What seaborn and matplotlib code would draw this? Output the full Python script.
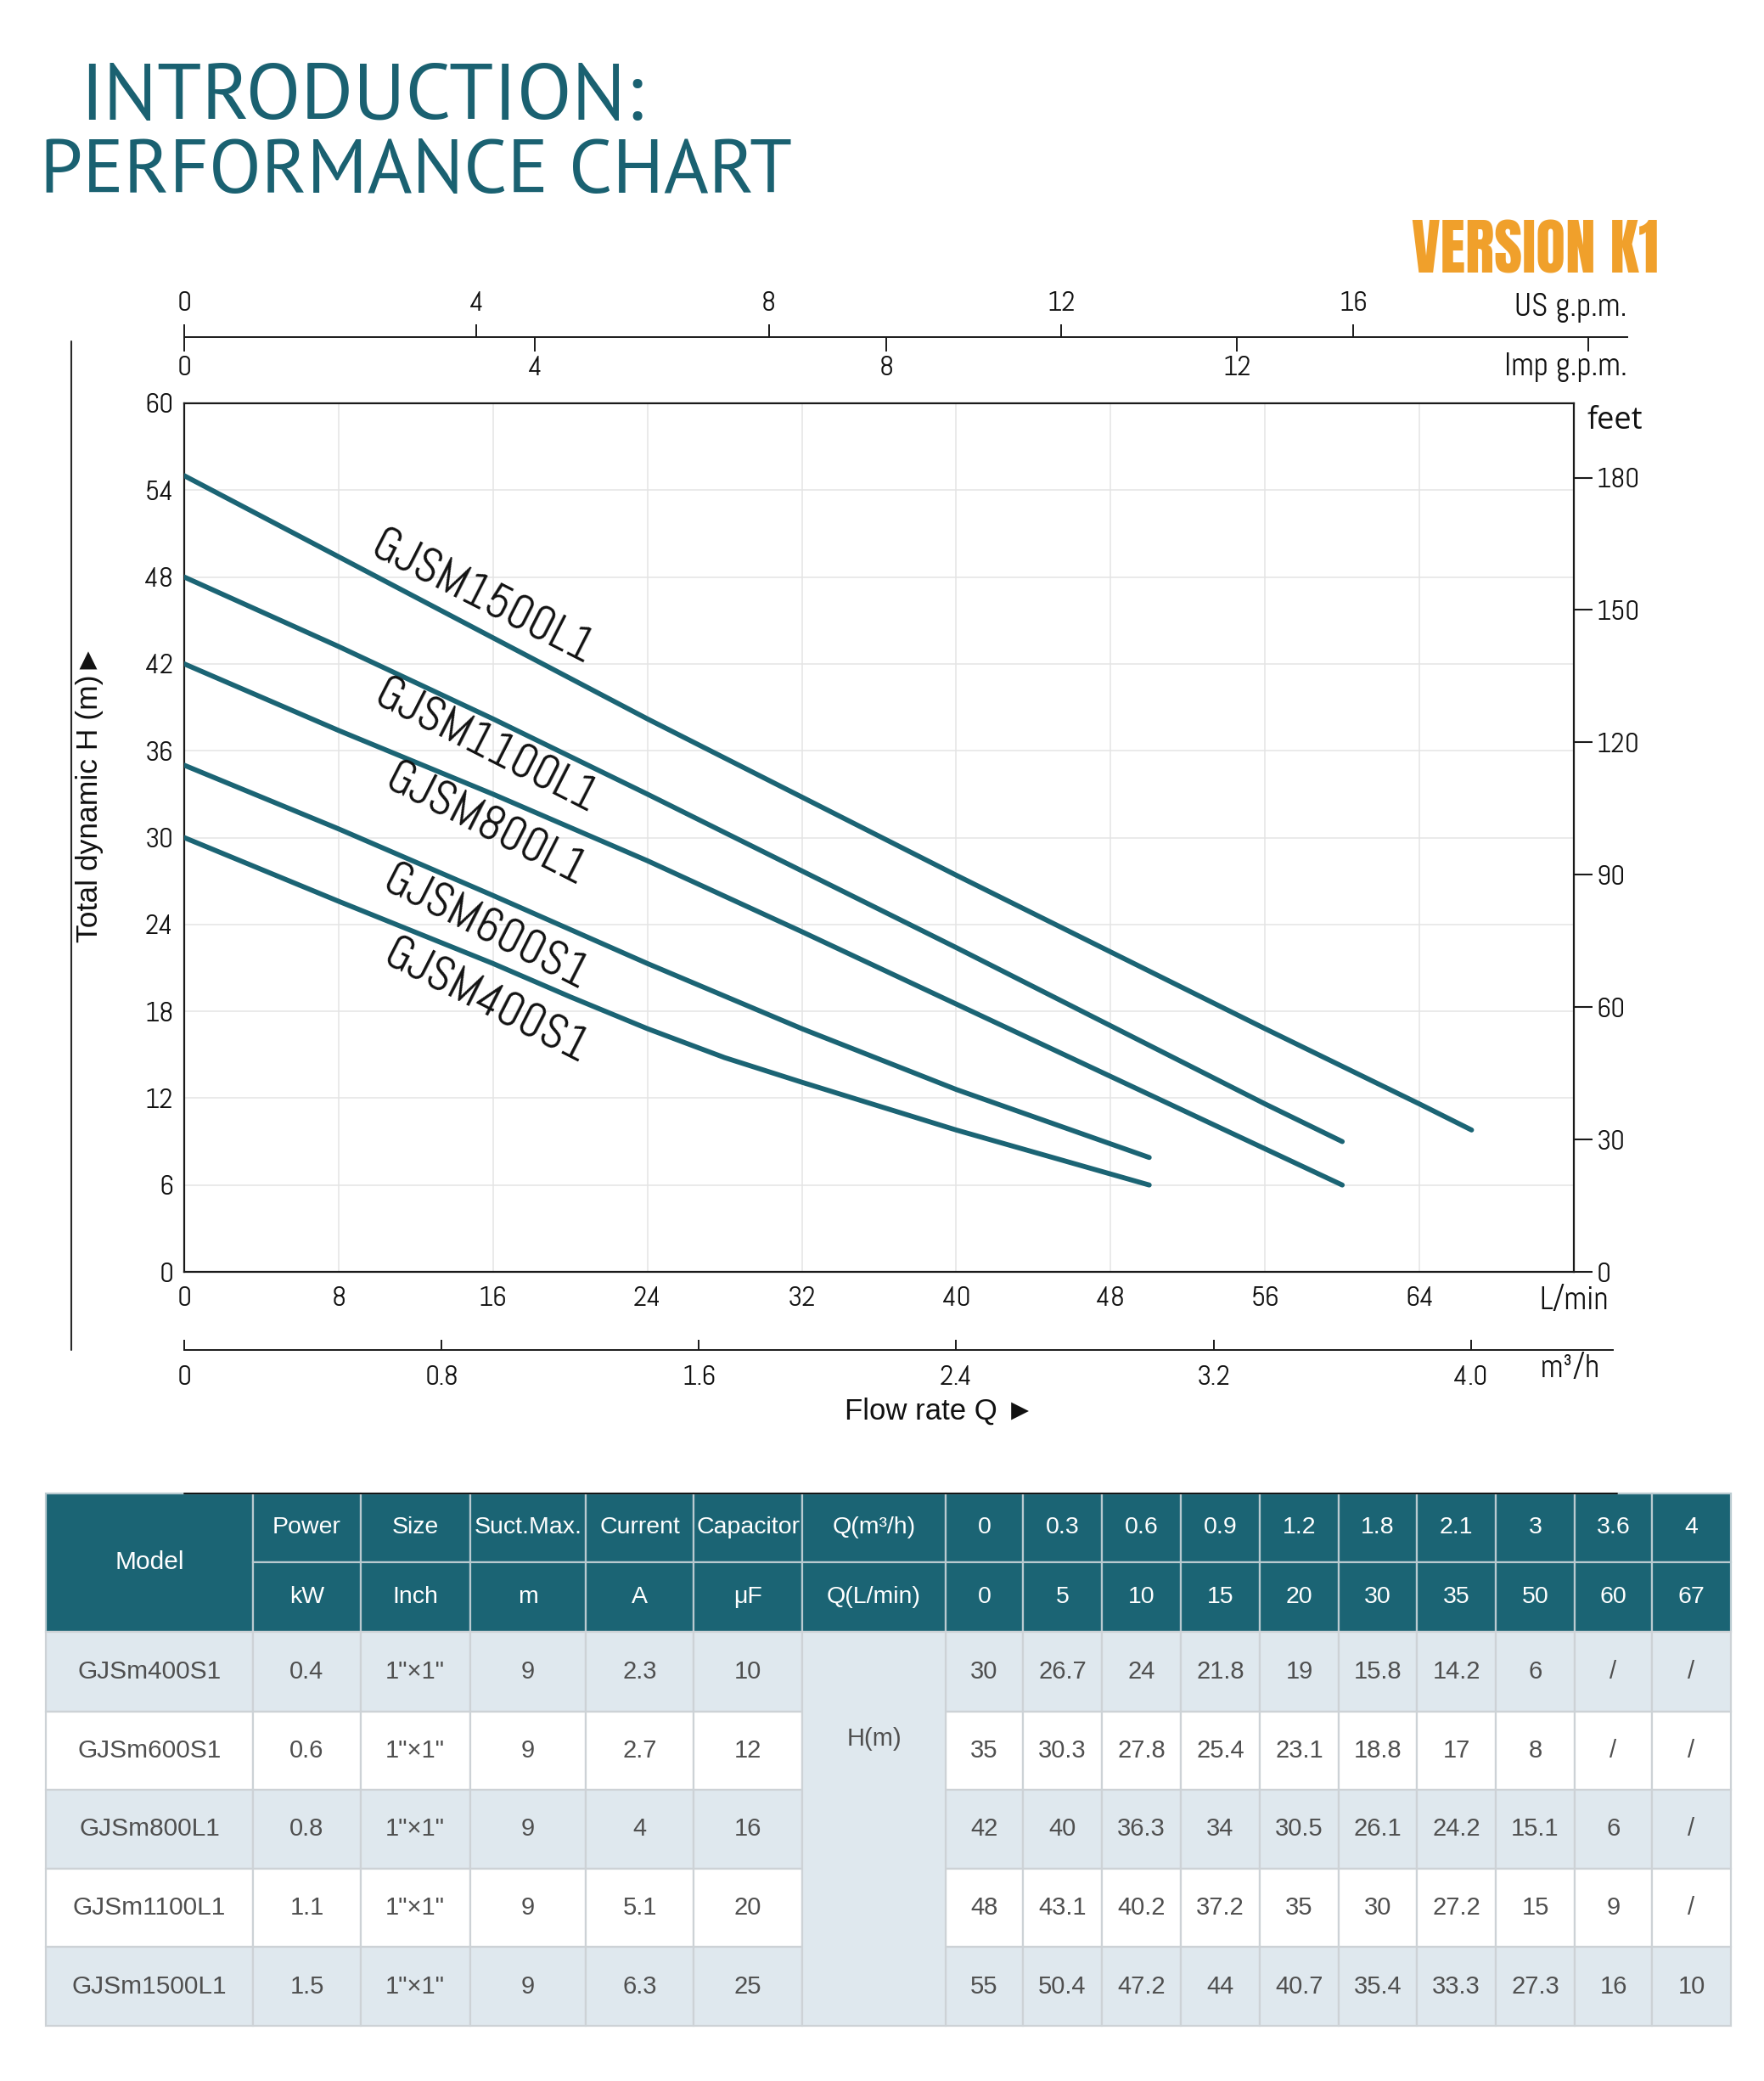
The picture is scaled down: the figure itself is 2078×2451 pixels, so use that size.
import matplotlib
matplotlib.use("Agg")
import matplotlib.pyplot as plt
from matplotlib.patches import Rectangle
from matplotlib.lines import Line2D
import seaborn as sns
import pandas as pd

# ---------------- data ----------------
# performance curves: flow (L/min) and head (m)
flow_400 = [0, 8, 16, 20, 24, 28, 32, 40, 50]
head_400 = [30, 25.6, 21.3, 19.0, 16.8, 14.8, 13.1, 9.8, 6]
flow_600 = [0, 8, 16, 24, 32, 40, 50]
head_600 = [35, 30.6, 26.0, 21.3, 16.8, 12.6, 7.9]
flow_800 = [0, 8, 16, 24, 32, 40, 48, 56, 60]
head_800 = [42, 37.4, 33.0, 28.4, 23.5, 18.5, 13.5, 8.5, 6]
flow_1100 = [0, 8, 16, 24, 32, 40, 48, 56, 60]
head_1100 = [48, 43.2, 38.2, 33.0, 27.7, 22.4, 17.0, 11.6, 9]
flow_1500 = [0, 8, 16, 24, 32, 40, 48, 56, 64, 66.7]
head_1500 = [55, 49.4, 43.8, 38.2, 32.8, 27.4, 22.1, 16.8, 11.6, 9.8]
curve_names = ["GJSM400S1", "GJSM600S1", "GJSM800L1", "GJSM1100L1", "GJSM1500L1"]

# axis tick values
lpm_ticks = [0, 8, 16, 24, 32, 40, 48, 56, 64, 72]
lpm_labels = ["0", "8", "16", "24", "32", "40", "48", "56", "64", "L/min"]
head_ticks = [0, 6, 12, 18, 24, 30, 36, 42, 48, 54, 60]
feet_ticks = [0, 30, 60, 90, 120, 150, 180]
m3h_ticks = [0, 0.8, 1.6, 2.4, 3.2, 4.0]
m3h_labels = ["0", "0.8", "1.6", "2.4", "3.2", "4.0"]
usgpm_ticks = [0, 4, 8, 12, 16]
impgpm_ticks = [0, 4, 8, 12, 16]
impgpm_labels = ["0", "4", "8", "12", ""]

# table
models = ["GJSm400S1", "GJSm600S1", "GJSm800L1", "GJSm1100L1", "GJSm1500L1"]
power_kw = ["0.4", "0.6", "0.8", "1.1", "1.5"]
size_inch = ['1"×1"'] * 5
suction_m = ["9", "9", "9", "9", "9"]
current_a = ["2.3", "2.7", "4", "5.1", "6.3"]
capacitor_uf = ["10", "12", "16", "20", "25"]
q_m3h = ["0", "0.3", "0.6", "0.9", "1.2", "1.8", "2.1", "3", "3.6", "4"]
q_lmin = ["0", "5", "10", "15", "20", "30", "35", "50", "60", "67"]
h_400 = ["30", "26.7", "24", "21.8", "19", "15.8", "14.2", "6", "/", "/"]
h_600 = ["35", "30.3", "27.8", "25.4", "23.1", "18.8", "17", "8", "/", "/"]
h_800 = ["42", "40", "36.3", "34", "30.5", "26.1", "24.2", "15.1", "6", "/"]
h_1100 = ["48", "43.1", "40.2", "37.2", "35", "30", "27.2", "15", "9", "/"]
h_1500 = ["55", "50.4", "47.2", "44", "40.7", "35.4", "33.3", "27.3", "16", "10"]
header_top = ["Power", "Size", "Suct.Max.", "Current", "Capacitor", "Q(m³/h)"]
header_bottom = ["kW", "Inch", "m", "A", "μF", "Q(L/min)"]

# unit conversions
LPM_PER_M3H = 1000 / 60
LPM_PER_USGPM = 3.785411784
LPM_PER_IMPGPM = 4.54609
FT_PER_M = 3.28084

# ---------------- style ----------------
sns.set_theme(style="white")
TEAL = "#1b6474"
TITLE_C = "#1a6171"
ORANGE = "#f0a02b"
TECH = ["Abel", "DejaVu Sans"]
ARIAL = ["Liberation Sans", "DejaVu Sans"]
plt.rcParams["font.family"] = ARIAL
TICK_FS = 24
UNIT_FS = 27

W, H = 2078, 2451
fig = plt.figure(figsize=(W / 100, H / 100), dpi=100)
fig.patch.set_facecolor("white")


def fx(px):
    return px / W


def fy(py):
    return 1 - py / H


# ---------------- main chart ----------------
L, R, T, B = 217, 1854, 475, 1498
ax = fig.add_axes([fx(L), fy(B), fx(R) - fx(L), fy(T) - fy(B)])

frames = []
for name, q, h in zip(curve_names,
                      [flow_400, flow_600, flow_800, flow_1100, flow_1500],
                      [head_400, head_600, head_800, head_1100, head_1500]):
    frames.append(pd.DataFrame({"Q": q, "H": h, "model": name}))
df = pd.concat(frames, ignore_index=True)

sns.lineplot(data=df, x="Q", y="H", units="model", estimator=None, sort=False,
             color=TEAL, linewidth=4.2, solid_capstyle="round",
             solid_joinstyle="round", ax=ax, zorder=3)

ax.set_xlim(0, 72)
ax.set_ylim(0, 60)
ax.set_xticks(lpm_ticks)
ax.set_xticklabels(lpm_labels)
ax.set_yticks(head_ticks)
ax.set_yticklabels([str(v) for v in head_ticks])
ax.set_xlabel("")
ax.set_ylabel("")
ax.grid(True, color="#e4e4e4", linewidth=1.1)
ax.set_axisbelow(True)
for s in ax.spines.values():
    s.set_color("#1a1a1a")
    s.set_linewidth(1.6)
ax.tick_params(axis="x", length=0, pad=12, labelsize=TICK_FS, labelcolor="#111")
ax.tick_params(axis="y", length=0, pad=9, labelsize=TICK_FS, labelcolor="#111")
for t in ax.get_xticklabels() + ax.get_yticklabels():
    t.set_family(TECH)
ax.get_xticklabels()[-1].set_fontsize(UNIT_FS)

# curve labels
label_pos = [(15.6, 18.6), (15.6, 23.7), (15.6, 30.8), (15.6, 36.2), (15.4, 46.5)]
for name, (px_, py_) in zip(curve_names, label_pos):
    ax.text(px_, py_, name, rotation=-27, rotation_mode="anchor", ha="center",
            va="center", fontsize=40, family=TECH, color="#111", zorder=4)

# right feet axis
ax2 = ax.twinx()
ax2.set_ylim(0, 60 * FT_PER_M)
ax2.set_yticks(feet_ticks)
ax2.set_yticklabels([str(v) for v in feet_ticks])
ax2.grid(False)
for s in ax2.spines.values():
    s.set_visible(False)
ax2.tick_params(axis="y", right=True, direction="out", length=16, width=1.5,
                pad=3, labelsize=TICK_FS, color="#1a1a1a", labelcolor="#111")
for t in ax2.get_yticklabels():
    t.set_family(TECH)
fig.text(fx(1870), fy(496), "feet", ha="left", va="center", fontsize=26,
         family=["Open Sans", "DejaVu Sans"], fontweight="medium", color="#111")

# top axis: US g.p.m. (ticks up) / Imp g.p.m. (ticks down)
TOP_Y = 397
top_rect = [fx(L), fy(TOP_Y), fx(1917) - fx(L), 1e-5]
top_len_lpm = (1917 - L) / (R - L) * 72

ax_us = fig.add_axes(top_rect)
ax_us.set_facecolor("none")
ax_us.set_xlim(0, top_len_lpm / LPM_PER_USGPM)
ax_us.set_yticks([])
for k, s in ax_us.spines.items():
    s.set_visible(k == "top")
    s.set_color("#1a1a1a")
    s.set_linewidth(1.4)
ax_us.set_xticks(usgpm_ticks)
ax_us.set_xticklabels([str(v) for v in usgpm_ticks])
ax_us.tick_params(axis="x", top=True, bottom=False, labeltop=True, labelbottom=False,
                  direction="out", length=11, width=1.4, pad=6, labelsize=TICK_FS,
                  color="#1a1a1a", labelcolor="#111")
for tk in ax_us.xaxis.get_major_ticks():
    tk.label2.set_family(TECH)

ax_imp = fig.add_axes(top_rect, label="imp")
ax_imp.set_facecolor("none")
ax_imp.set_xlim(0, top_len_lpm / LPM_PER_IMPGPM)
ax_imp.set_yticks([])
for s in ax_imp.spines.values():
    s.set_visible(False)
ax_imp.set_xticks(impgpm_ticks)
ax_imp.set_xticklabels(impgpm_labels)
ax_imp.tick_params(axis="x", top=False, bottom=True, labeltop=False, labelbottom=True,
                   direction="out", length=12, width=1.4, pad=4, labelsize=TICK_FS,
                   color="#1a1a1a", labelcolor="#111")
for tk in ax_imp.xaxis.get_major_ticks():
    tk.label1.set_family(TECH)
fig.text(fx(1917), fy(362), "US g.p.m.", ha="right", va="center", fontsize=UNIT_FS,
         family=TECH, color="#111")
fig.text(fx(1917), fy(432), "Imp g.p.m.", ha="right", va="center", fontsize=UNIT_FS,
         family=TECH, color="#111")

# bottom axis: m3/h
BOT_Y = 1590
bot_len_lpm = (1900 - L) / (R - L) * 72
ax_m3 = fig.add_axes([fx(L), fy(BOT_Y), fx(1900) - fx(L), 1e-5])
ax_m3.set_facecolor("none")
ax_m3.set_xlim(0, bot_len_lpm / LPM_PER_M3H)
ax_m3.set_yticks([])
for k, s in ax_m3.spines.items():
    s.set_visible(k == "bottom")
    s.set_color("#1a1a1a")
    s.set_linewidth(1.4)
ax_m3.set_xticks(m3h_ticks)
ax_m3.set_xticklabels(m3h_labels)
ax_m3.tick_params(axis="x", bottom=True, direction="in", length=9, width=1.4,
                  pad=13, labelsize=TICK_FS, color="#1a1a1a", labelcolor="#111")
for t in ax_m3.get_xticklabels():
    t.set_family(TECH)
fig.text(fx(1850), fy(1613), "m³/h", ha="center", va="center", fontsize=UNIT_FS,
         family=TECH, color="#111")

# axis titles
fig.text(fx(106), fy(935), "Total dynamic H (m)►", rotation=90, ha="center",
         va="center", fontsize=25.5, family=ARIAL, color="#111")
fig.text(fx(1107), fy(1662), "Flow rate Q ►", ha="center", va="center",
         fontsize=25, family=ARIAL, color="#111")
fig.add_artist(Line2D([fx(84), fx(84)], [fy(402), fy(1590)], color="#2a2a2a",
                      linewidth=1.5))

# titles
fig.text(fx(94), fy(141), "INTRODUCTION:", ha="left", va="baseline", fontsize=68,
         family=["PT Sans", "DejaVu Sans"], color=TITLE_C)
fig.text(fx(47), fy(227), "PERFORMANCE CHART", ha="left", va="baseline", fontsize=65,
         family=["PT Sans", "DejaVu Sans"], color=TITLE_C)
fig.text(fx(1954), fy(321), "VERSION K1", ha="right", va="baseline", fontsize=51.5,
         family=["Anton", "DejaVu Sans"], color=ORANGE)

# ---------------- table ----------------
tab = fig.add_axes([0, 0, 1, 1], label="table")
tab.set_xlim(0, W)
tab.set_ylim(H, 0)
tab.axis("off")
tab.set_zorder(-1)

col_edges = [54, 298, 425, 553.5, 690, 817, 945, 1114, 1205, 1298, 1391, 1484,
             1577, 1669, 1762, 1855, 1946, 2039]
row_edges = [1759, 1840, 1922, 2016, 2108, 2201, 2293, 2386]
LIGHT = "#dfe8ee"
HEAD_LINE = "#b9cad0"
BODY_LINE = "#cdd2d6"
BODY_TXT = "#4f4f4f"


def cell(c0, c1, r0, r1, fc, ec, lw=1.6):
    tab.add_patch(Rectangle((col_edges[c0], row_edges[r0]),
                            col_edges[c1] - col_edges[c0],
                            row_edges[r1] - row_edges[r0],
                            facecolor=fc, edgecolor=ec, linewidth=lw))


def ctext(c0, c1, y, s, color, size):
    tab.text((col_edges[c0] + col_edges[c1]) / 2, y, s, ha="center", va="center",
             fontsize=size, color=color, family=ARIAL)


# header
cell(0, 1, 0, 2, TEAL, HEAD_LINE)
ctext(0, 1, (row_edges[0] + row_edges[2]) / 2, "Model", "white", 21.5)
for j, (a, b) in enumerate(zip(header_top, header_bottom)):
    cell(1 + j, 2 + j, 0, 1, TEAL, HEAD_LINE)
    cell(1 + j, 2 + j, 1, 2, TEAL, HEAD_LINE)
    ctext(1 + j, 2 + j, (row_edges[0] + row_edges[1]) / 2, a, "white", 20.5)
    ctext(1 + j, 2 + j, (row_edges[1] + row_edges[2]) / 2, b, "white", 20.5)
for j, (a, b) in enumerate(zip(q_m3h, q_lmin)):
    c = 7 + j
    cell(c, c + 1, 0, 1, TEAL, HEAD_LINE)
    cell(c, c + 1, 1, 2, TEAL, HEAD_LINE)
    ctext(c, c + 1, (row_edges[0] + row_edges[1]) / 2, a, "white", 20.5)
    ctext(c, c + 1, (row_edges[1] + row_edges[2]) / 2, b, "white", 20.5)

# body
heads = [h_400, h_600, h_800, h_1100, h_1500]
for i in range(5):
    r = 2 + i
    fc = LIGHT if i % 2 == 0 else "white"
    yc = (row_edges[r] + row_edges[r + 1]) / 2
    vals = [models[i], power_kw[i], size_inch[i], suction_m[i], current_a[i],
            capacitor_uf[i]]
    for j, v in enumerate(vals):
        cell(j, j + 1, r, r + 1, fc, BODY_LINE)
        ctext(j, j + 1, yc, v, BODY_TXT, 21.5 if j == 0 else 21)
    for j, v in enumerate(heads[i]):
        c = 7 + j
        cell(c, c + 1, r, r + 1, fc, BODY_LINE)
        ctext(c, c + 1, yc, v, BODY_TXT, 21)
cell(6, 7, 2, 7, LIGHT, BODY_LINE)
ctext(6, 7, 2048, "H(m)", BODY_TXT, 21)
tab.plot([217, 1905], [1759, 1759], color="#111", linewidth=1.4, zorder=5)

fig.savefig("out.png", dpi=100, facecolor="white")
